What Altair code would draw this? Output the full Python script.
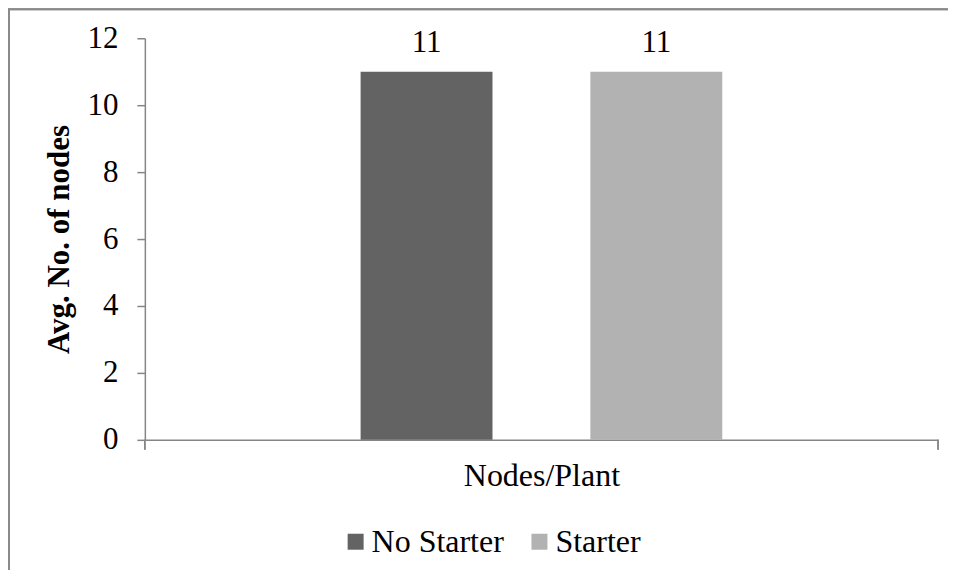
import altair as alt
import pandas as pd

categories = ["Nodes/Plant"]
series = ["No Starter", "Starter"]
values = [11, 11]
colors = ["#636363", "#b2b2b2"]
y_ticks = [0, 2, 4, 6, 8, 10, 12]

df = pd.DataFrame({"series": series, "value": values, "group": categories * len(series)})

FONT = "Liberation Serif"
AXC = "#868686"
W, H = 794, 402

x_enc = alt.X(
    "series:N",
    scale=alt.Scale(domain=series, paddingInner=0.426, paddingOuter=0.939),
    axis=alt.Axis(title=categories[0], labels=False, ticks=False, domainColor=AXC,
                  domainWidth=1.5, titleFont=FONT, titleFontSize=32, titleFontWeight="normal",
                  titleColor="#000", titlePadding=21),
)
y_enc = alt.Y(
    "value:Q",
    scale=alt.Scale(domain=[0, 12], nice=False),
    axis=alt.Axis(values=y_ticks, title="Avg. No. of nodes", grid=False, domainColor=AXC,
                  domainWidth=1.5, tickColor=AXC, tickWidth=1.5, tickSize=8, labelPadding=19,
                  labelFont=FONT, labelFontSize=31, labelColor="#000", titleFont=FONT,
                  titleFontSize=31, titleFontWeight="bold", titleColor="#000", titlePadding=11),
)

bars = alt.Chart(df).mark_bar().encode(
    x=x_enc,
    y=y_enc,
    color=alt.Color(
        "series:N",
        scale=alt.Scale(domain=series, range=colors),
        legend=alt.Legend(orient="none", legendX=195, legendY=488, direction="horizontal",
                          title=None, symbolType="square", symbolSize=256, symbolStrokeWidth=0,
                          labelFont=FONT, labelFontSize=32, labelColor="#000", labelOffset=0,
                          columnPadding=19, padding=0),
    ),
)

labels = alt.Chart(df).mark_text(font=FONT, fontSize=31, color="#000", baseline="alphabetic", dy=-20).encode(
    x=alt.X("series:N", scale=alt.Scale(domain=series, paddingInner=0.426, paddingOuter=0.939)),
    y=alt.Y("value:Q"),
    text=alt.Text("value:Q"),
)

tick_l = alt.Chart(df).mark_rule(color=AXC, strokeWidth=1.5).encode(
    x=alt.value(0), y=alt.value(H), y2=alt.value(H + 10))
tick_r = alt.Chart(df).mark_rule(color=AXC, strokeWidth=1.5).encode(
    x=alt.value(W), y=alt.value(H), y2=alt.value(H + 10))
frame_l = alt.Chart(df).mark_rule(color="#8a8a8a", strokeWidth=2).encode(
    x=alt.value(-136), y=alt.value(-30), y2=alt.value(545))
frame_t = alt.Chart(df).mark_rule(color="#8a8a8a", strokeWidth=2).encode(
    x=alt.value(-136), x2=alt.value(815), y=alt.value(-29))

chart = alt.layer(bars, labels, tick_l, tick_r, frame_l, frame_t).properties(
    width=W, height=H,
    autosize=alt.AutoSizeParams(type="none"),
    padding={"left": 137, "top": 30, "right": 10, "bottom": 130},
).configure(background="white").configure_view(stroke=None, strokeWidth=0)

chart.save("out.html", embed_options={"renderer": "svg", "actions": False})
